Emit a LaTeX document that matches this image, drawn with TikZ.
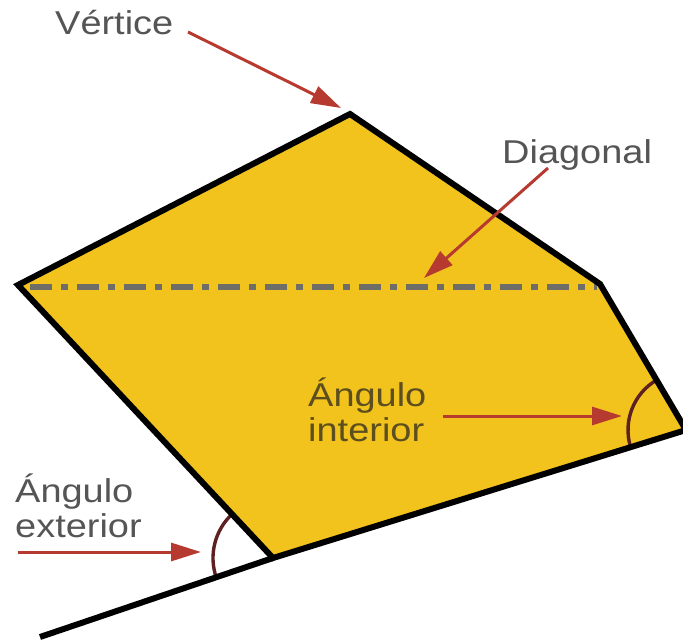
\documentclass[tikz,border=0pt]{standalone}
\usepackage{fontspec}
\newfontfamily\labfont[FakeStretch=1.15]{Liberation Sans}
\usetikzlibrary{arrows.meta}
\definecolor{polyfill}{HTML}{F2C31C}
\definecolor{arrowred}{HTML}{B63A30}
\definecolor{arcbrown}{HTML}{5E2020}
\definecolor{diaggray}{HTML}{6E6D68}
\definecolor{outtext}{HTML}{555555}
\definecolor{intext}{HTML}{5C4E1E}
\tikzset{
  edge/.style={line width=6pt, line join=miter},
  pointer/.style={arrowred, line width=3pt, -{Triangle[length=30pt,width=18pt]}},
  anglearc/.style={arcbrown, line width=3.4pt},
  label/.style={font=\labfont\fontsize{33}{34.5}\selectfont, inner sep=0pt, align=left},
}
\begin{document}
\begin{tikzpicture}[x=1pt,y=1pt]
\useasboundingbox (0,0) rectangle (683,-642);
\begin{scope}
\clip (0,0) rectangle (683,-642);
% vertices
\coordinate (T) at (350,-114);
\coordinate (R) at (600,-284);
\coordinate (BR) at (686,-430);
\coordinate (B) at (273,-558);
\coordinate (L) at (18,-285);
\coordinate (E) at (40,-637);
\fill[polyfill] (T) -- (R) -- (BR) -- (B) -- (L) -- cycle;
% diagonal
\coordinate (D1) at (30,-287);
\coordinate (D2) at (597,-287);
\draw[diaggray, line width=6pt, dash pattern=on 22pt off 9pt on 7pt off 9pt] (D1) -- (D2);
% angle arcs
\draw[anglearc] (BR) ++(197:58) arc[start angle=197, end angle=120, radius=58];
\draw[anglearc] (B) ++(199:60) arc[start angle=199, end angle=133, radius=60];
% outline
\draw[edge] (BR) -- (B) -- (L) -- (T) -- (R) -- (BR);
\draw[edge] (B) -- (E);
\end{scope}
% labels
\node[label, text=outtext, anchor=base west] (vert) at (55,-35) {Vértice};
\node[label, text=outtext, anchor=base west] (diag) at (502,-163) {Diagonal};
\node[label, text=intext, anchor=north west] (aint) at (308,-378) {Ángulo\\interior};
\node[label, text=outtext, anchor=north west] (aext) at (15,-474) {Ángulo\\exterior};
% arrows
\coordinate (vstart) at (188,-32);
\coordinate (vtip) at (341,-108);
\coordinate (dstart) at (548,-168);
\coordinate (dtip) at (424,-278);
\coordinate (istart) at (443,-416);
\coordinate (itip) at (622,-416);
\coordinate (estart) at (18,-552);
\coordinate (etip) at (201,-552);
\draw[pointer] (vstart) -- (vtip);
\draw[pointer] (dstart) -- (dtip);
\draw[pointer] (istart) -- (itip);
\draw[pointer] (estart) -- (etip);
\end{tikzpicture}
\end{document}
